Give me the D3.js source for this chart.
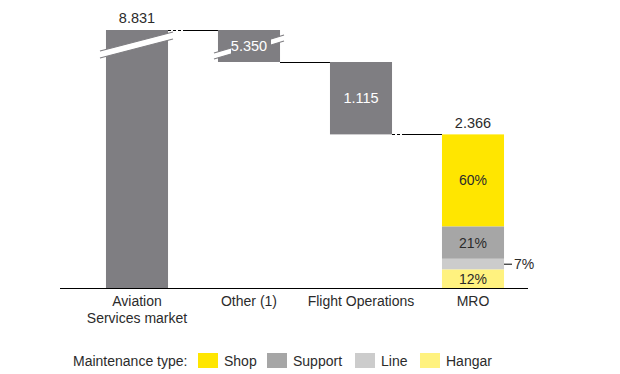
<!DOCTYPE html>
<html>
<head>
<meta charset="utf-8">
<script src="https://cdn.jsdelivr.net/npm/d3@7"></script>
<style>
  body { margin: 0; background: #fff; }
  text { font-family: "Liberation Sans", Arial, sans-serif; fill: #2b2b2b; }
</style>
</head>
<body>
<script>
// Size of the SVG
var width = 620;
var height = 374;

// Data
var categories = ["Aviation|Services market", "Other (1)", "Flight Operations", "MRO"];
var values = [8.831, 5.350, 1.115, 2.366];
var valueLabels = ["8.831", "5.350", "1.115", "2.366"];
var mroTypes = ["Shop", "Support", "Line", "Hangar"];
var mroShares = [60, 21, 7, 12];
var typeColors = ["#ffe600", "#a6a6a6", "#cccccc", "#fff27f"];
var barColor = "#7f7e82";

var svg = d3.select("body")
  .append("svg")
  .attr("width", width)
  .attr("height", height);

var x = d3.scaleBand()
  .domain(categories)
  .range([81, 529])
  .paddingInner(0.446)
  .paddingOuter(0.223);

// broken value axis: everything above Flight Ops + MRO is squeezed
var lowTotal = values[2] + values[3];
var y = d3.scaleLinear()
  .domain([0, lowTotal, values[0]])
  .range([288, 62, 30]);

// waterfall steps: [start, end]
var steps = [
  [0, values[0]],
  [lowTotal, values[0]],
  [values[3], lowTotal],
  [0, values[3]]
];

var bw = x.bandwidth();

// connector lines
function connector(x1, x2, yy, dashTo) {
  svg.append("line")
    .attr("x1", x1).attr("x2", dashTo).attr("y1", yy).attr("y2", yy)
    .attr("stroke", "#000").attr("stroke-width", 1)
    .attr("stroke-dasharray", "3,2");
  svg.append("line")
    .attr("x1", dashTo).attr("x2", x2).attr("y1", yy).attr("y2", yy)
    .attr("stroke", "#000").attr("stroke-width", 1);
}
var yTop = Math.round(y(values[0])) + 0.5;
connector(x(categories[0]) + bw, x(categories[1]), yTop, x(categories[0]) + bw + 16);
var yMid = Math.round(y(lowTotal)) + 0.5;
svg.append("line")
  .attr("x1", x(categories[1]) + bw).attr("x2", x(categories[2]))
  .attr("y1", yMid).attr("y2", yMid)
  .attr("stroke", "#000").attr("stroke-width", 1);
var yLow = Math.round(y(values[3])) + 0.5;
connector(x(categories[2]) + bw, x(categories[3]), yLow, x(categories[2]) + bw + 13);

// grey bars
svg.selectAll(".bar")
  .data(steps.slice(0, 3))
  .enter()
  .append("rect")
  .attr("class", "bar")
  .attr("x", function(d, i) { return x(categories[i]); })
  .attr("y", function(d) { return y(d[1]); })
  .attr("width", bw)
  .attr("height", function(d) { return y(d[0]) - y(d[1]); })
  .style("fill", barColor);

// MRO stacked segments
var stack = [];
var acc = 0;
for (var i = mroShares.length - 1; i >= 0; i--) {
  var v0 = values[3] * acc / 100;
  acc += mroShares[i];
  var v1 = values[3] * acc / 100;
  stack.unshift({type: mroTypes[i], share: mroShares[i], v0: v0, v1: v1, color: typeColors[i]});
}
var xm = x(categories[3]);
svg.selectAll(".seg")
  .data(stack)
  .enter()
  .append("rect")
  .attr("class", "seg")
  .attr("x", xm)
  .attr("y", function(d) { return y(d.v1); })
  .attr("width", bw)
  .attr("height", function(d) { return y(d.v0) - y(d.v1); })
  .style("fill", function(d) { return d.color; });

svg.selectAll(".pct")
  .data(stack.filter(function(d) { return d.share > 10; }))
  .enter()
  .append("text")
  .attr("x", xm + bw / 2)
  .attr("y", function(d) { return (y(d.v0) + y(d.v1)) / 2 + 5; })
  .attr("text-anchor", "middle")
  .style("font-size", "14px")
  .text(function(d) { return d.share + "%"; });

var small = stack.filter(function(d) { return d.share < 10; })[0];
var ys = (y(small.v0) + y(small.v1)) / 2;
svg.append("line")
  .attr("x1", xm + bw).attr("x2", xm + bw + 8)
  .attr("y1", ys).attr("y2", ys)
  .attr("stroke", "#000").attr("stroke-width", 1);
svg.append("text")
  .attr("x", xm + bw + 10)
  .attr("y", ys + 5)
  .style("font-size", "14px")
  .text(small.share + "%");

// break marks (white slanted bands)
function slash(x1, y1, x2, y2, t) {
  svg.append("path")
    .attr("d", "M" + x1 + "," + y1 + "L" + x2 + "," + y2 + "L" + x2 + "," + (y2 + t) + "L" + x1 + "," + (y1 + t) + "Z")
    .attr("fill", "#fff");
  svg.append("path")
    .attr("d", "M" + x1 + "," + y1 + "L" + x2 + "," + y2 + "M" + x1 + "," + (y1 + t) + "L" + x2 + "," + (y2 + t))
    .attr("stroke", barColor).attr("stroke-width", 1.2).attr("fill", "none");
}
var xa = x(categories[0]);
slash(xa - 6, 51, xa + bw + 5, 32, 7);
var xo = x(categories[1]);
slash(xo - 4, 53, xo + 13, 48, 6);
slash(xo + bw - 9, 39, xo + bw + 4, 35, 6);

// value labels
svg.append("text")
  .attr("x", xa + bw / 2).attr("y", y(values[0]) - 7)
  .attr("text-anchor", "middle").style("font-size", "14.5px")
  .text(valueLabels[0]);
svg.append("text")
  .attr("x", xo + bw / 2).attr("y", (y(steps[1][0]) + y(steps[1][1])) / 2 + 5)
  .attr("text-anchor", "middle").style("font-size", "14.5px").style("fill", "#fff")
  .text(valueLabels[1]);
svg.append("text")
  .attr("x", x(categories[2]) + bw / 2).attr("y", (y(steps[2][0]) + y(steps[2][1])) / 2 + 5)
  .attr("text-anchor", "middle").style("font-size", "14.5px").style("fill", "#fff")
  .text(valueLabels[2]);
svg.append("text")
  .attr("x", xm + bw / 2).attr("y", y(values[3]) - 6)
  .attr("text-anchor", "middle").style("font-size", "14.5px")
  .text(valueLabels[3]);

// baseline
svg.append("line")
  .attr("x1", 60).attr("x2", 528)
  .attr("y1", y(0) + 0.5).attr("y2", y(0) + 0.5)
  .attr("stroke", "#000").attr("stroke-width", 1.2);

// category labels
svg.selectAll(".cat")
  .data(categories)
  .enter()
  .append("text")
  .attr("class", "cat")
  .attr("x", function(d) { return x(d) + bw / 2; })
  .attr("y", 306)
  .attr("text-anchor", "middle")
  .style("font-size", "14px")
  .each(function(d) {
    var lines = d.split("|");
    var t = d3.select(this);
    lines.forEach(function(l, k) {
      t.append("tspan").attr("x", x(d) + bw / 2).attr("dy", k ? 17 : 0).text(l);
    });
  });

// legend
svg.append("text")
  .attr("x", 73).attr("y", 366)
  .style("font-size", "14px")
  .text("Maintenance type:");
var legendX = [198, 267, 355, 420];
var leg = svg.selectAll(".leg")
  .data(mroTypes)
  .enter()
  .append("g")
  .attr("transform", function(d, i) { return "translate(" + legendX[i] + ",353)"; });
leg.append("rect")
  .attr("width", 20).attr("height", 15)
  .style("fill", function(d, i) { return typeColors[i]; });
leg.append("text")
  .attr("x", 26).attr("y", 13)
  .style("font-size", "14px")
  .text(function(d) { return d; });
</script>
</body>
</html>
